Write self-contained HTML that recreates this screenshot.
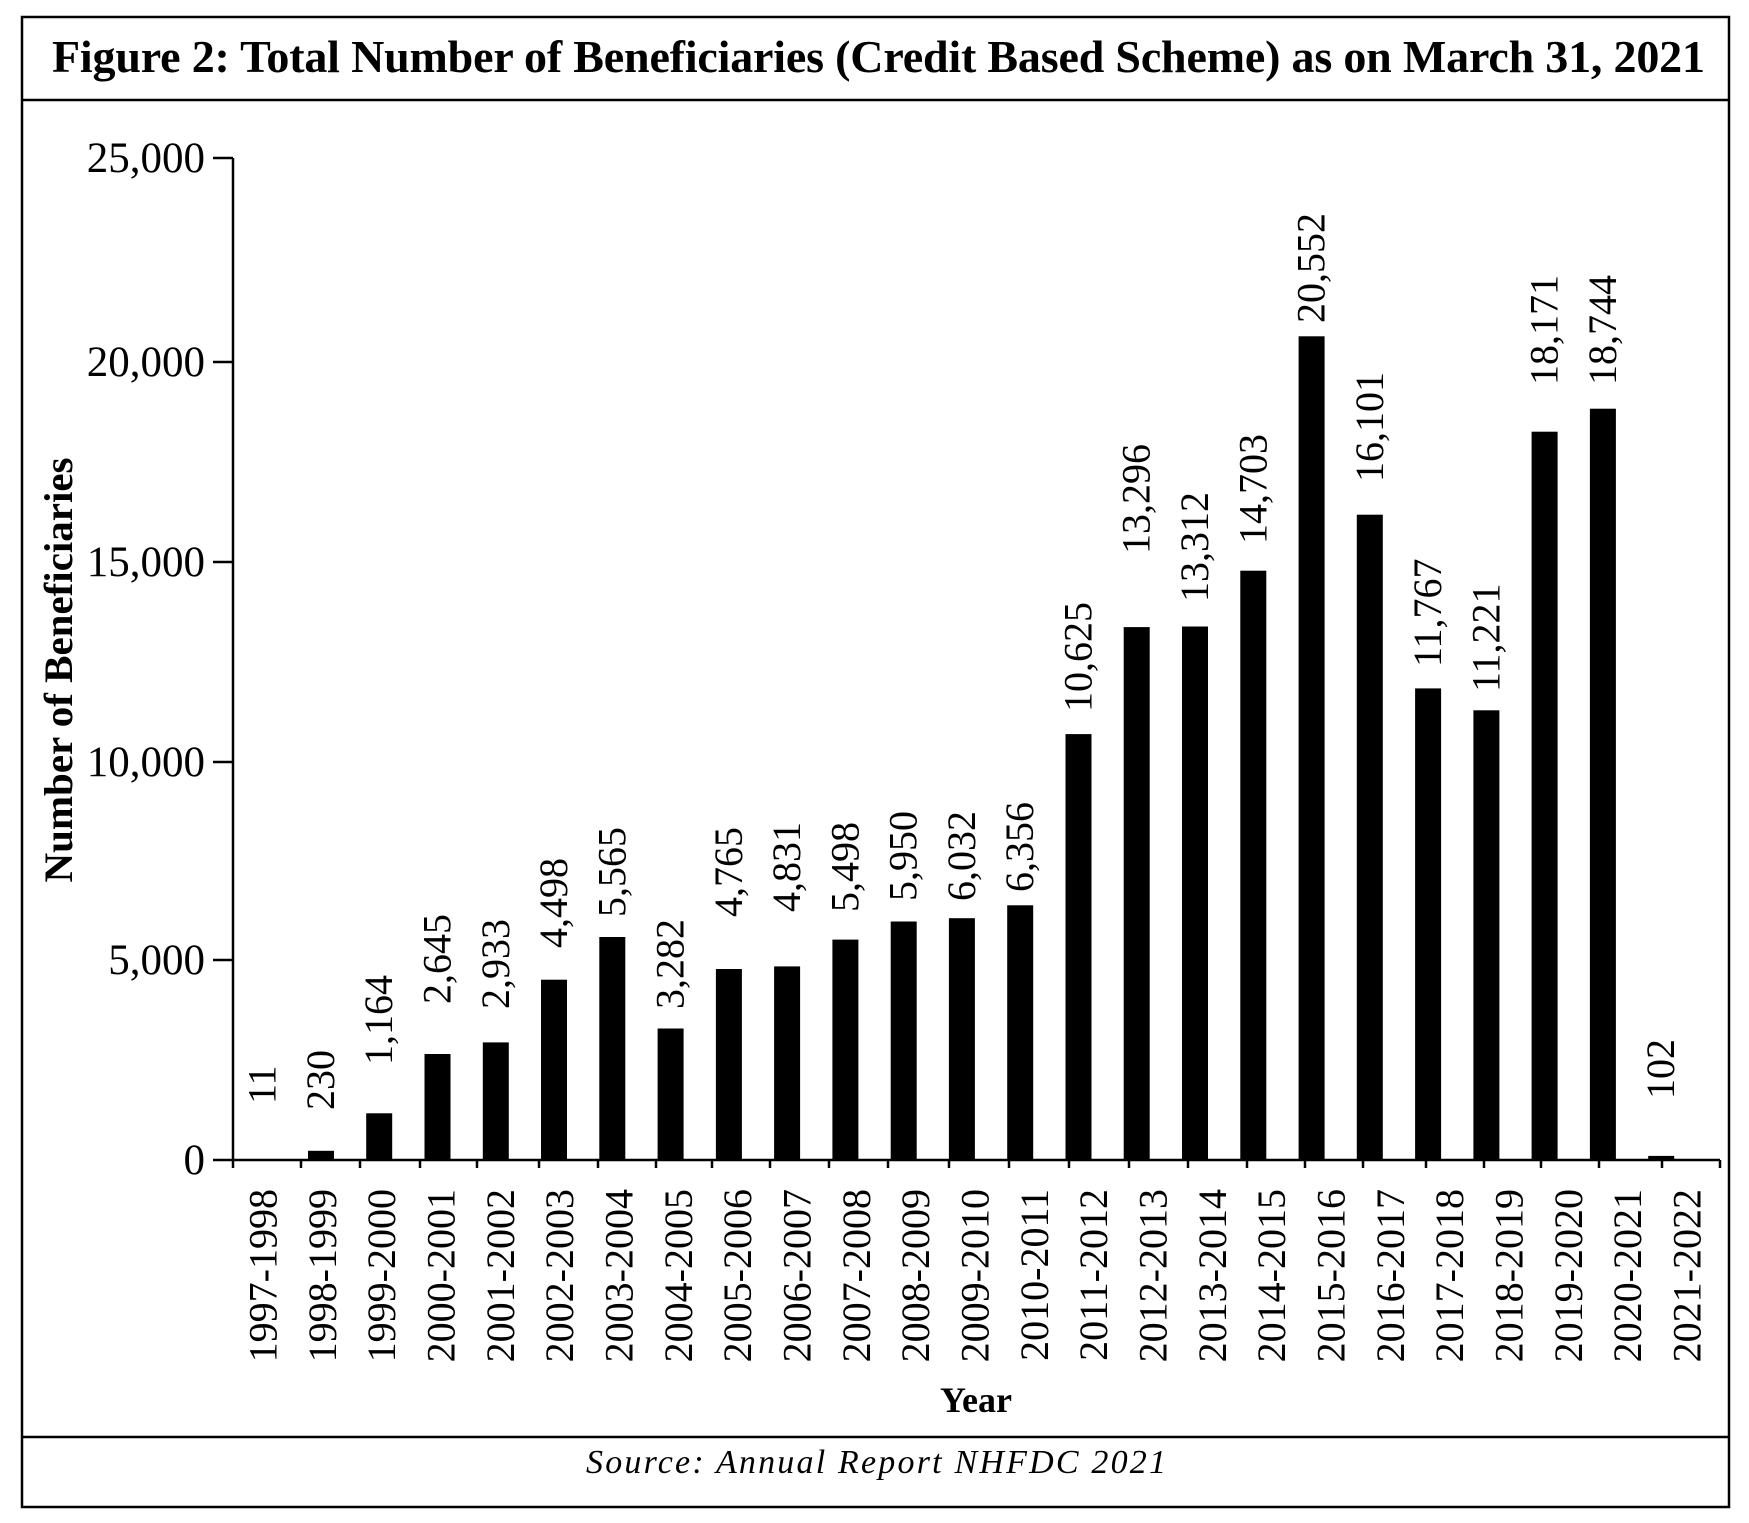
<!DOCTYPE html>
<html><head><meta charset="utf-8"><style>html,body{margin:0;padding:0;background:#fff}svg{display:block}</style></head>
<body>
<svg width="1749" height="1523" viewBox="0 0 1749 1523" xmlns="http://www.w3.org/2000/svg" font-family="'Liberation Serif', serif">
<rect x="22" y="17" width="1707" height="1490" fill="none" stroke="#000" stroke-width="2.5"/>
<line x1="22" y1="100" x2="1729" y2="100" stroke="#000" stroke-width="2.5"/>
<line x1="22" y1="1437" x2="1729" y2="1437" stroke="#000" stroke-width="2.5"/>
<text x="52" y="72" font-size="46" font-weight="bold" textLength="1653" lengthAdjust="spacing">Figure 2: Total Number of Beneficiaries (Credit Based Scheme) as on March 31, 2021</text>
<text x="876" y="1473" font-size="34" font-style="italic" text-anchor="middle" textLength="580" lengthAdjust="spacing">Source: Annual Report NHFDC 2021</text>
<g stroke="#000" stroke-width="2.5">
<line x1="233" y1="158" x2="233" y2="1160"/>
<line x1="213" y1="1160" x2="1720" y2="1160"/>
<line x1="213" y1="158" x2="233" y2="158"/>
<line x1="213" y1="362" x2="233" y2="362"/>
<line x1="213" y1="562" x2="233" y2="562"/>
<line x1="213" y1="762" x2="233" y2="762"/>
<line x1="213" y1="960" x2="233" y2="960"/>
<line x1="233" y1="1160" x2="233" y2="1168"/><line x1="301" y1="1160" x2="301" y2="1168"/><line x1="360" y1="1160" x2="360" y2="1168"/><line x1="420" y1="1160" x2="420" y2="1168"/><line x1="477" y1="1160" x2="477" y2="1168"/><line x1="539" y1="1160" x2="539" y2="1168"/><line x1="598" y1="1160" x2="598" y2="1168"/><line x1="656" y1="1160" x2="656" y2="1168"/><line x1="712" y1="1160" x2="712" y2="1168"/><line x1="770" y1="1160" x2="770" y2="1168"/><line x1="829" y1="1160" x2="829" y2="1168"/><line x1="888" y1="1160" x2="888" y2="1168"/><line x1="949" y1="1160" x2="949" y2="1168"/><line x1="1009" y1="1160" x2="1009" y2="1168"/><line x1="1069" y1="1160" x2="1069" y2="1168"/><line x1="1129" y1="1160" x2="1129" y2="1168"/><line x1="1188" y1="1160" x2="1188" y2="1168"/><line x1="1247" y1="1160" x2="1247" y2="1168"/><line x1="1305" y1="1160" x2="1305" y2="1168"/><line x1="1363" y1="1160" x2="1363" y2="1168"/><line x1="1426" y1="1160" x2="1426" y2="1168"/><line x1="1484" y1="1160" x2="1484" y2="1168"/><line x1="1541" y1="1160" x2="1541" y2="1168"/><line x1="1599" y1="1160" x2="1599" y2="1168"/><line x1="1662" y1="1160" x2="1662" y2="1168"/><line x1="1720" y1="1160" x2="1720" y2="1168"/>
</g>
<g font-size="43" text-anchor="end">
<text x="205" y="172">25,000</text>
<text x="205" y="376">20,000</text>
<text x="205" y="576">15,000</text>
<text x="205" y="776">10,000</text>
<text x="205" y="974">5,000</text>
<text x="205" y="1174">0</text>
</g>
<text transform="translate(72,670) rotate(-90)" font-size="40" font-weight="bold" text-anchor="middle" textLength="425" lengthAdjust="spacingAndGlyphs">Number of Beneficiaries</text>
<text x="976" y="1412" font-size="36" font-weight="bold" text-anchor="middle">Year</text>
<g fill="#000">
<rect x="249.7" y="1159.6" width="26" height="0.4"/>
<rect x="308.0" y="1150.8" width="26" height="9.2"/>
<rect x="366.2" y="1113.3" width="26" height="46.7"/>
<rect x="424.5" y="1054.0" width="26" height="106.0"/>
<rect x="482.8" y="1042.4" width="26" height="117.6"/>
<rect x="541.0" y="979.7" width="26" height="180.3"/>
<rect x="599.3" y="937.0" width="26" height="223.0"/>
<rect x="657.6" y="1028.5" width="26" height="131.5"/>
<rect x="715.9" y="969.0" width="26" height="191.0"/>
<rect x="774.1" y="966.4" width="26" height="193.6"/>
<rect x="832.4" y="939.6" width="26" height="220.4"/>
<rect x="890.7" y="921.5" width="26" height="238.5"/>
<rect x="948.9" y="918.2" width="26" height="241.8"/>
<rect x="1007.2" y="905.3" width="26" height="254.7"/>
<rect x="1065.5" y="734.1" width="26" height="425.9"/>
<rect x="1123.7" y="627.1" width="26" height="532.9"/>
<rect x="1182.0" y="626.5" width="26" height="533.5"/>
<rect x="1240.3" y="570.7" width="26" height="589.3"/>
<rect x="1298.6" y="336.3" width="26" height="823.7"/>
<rect x="1356.8" y="514.7" width="26" height="645.3"/>
<rect x="1415.1" y="688.4" width="26" height="471.6"/>
<rect x="1473.4" y="710.3" width="26" height="449.7"/>
<rect x="1531.6" y="431.7" width="26" height="728.3"/>
<rect x="1589.9" y="408.7" width="26" height="751.3"/>
<rect x="1648.2" y="1155.9" width="26" height="4.1"/>
</g>
<g font-size="40" text-anchor="start">
<text transform="translate(275.7,1104) rotate(-90)">11</text>
<text transform="translate(334.0,1110) rotate(-90)">230</text>
<text transform="translate(392.2,1065) rotate(-90)">1,164</text>
<text transform="translate(450.5,1004) rotate(-90)">2,645</text>
<text transform="translate(508.8,1009) rotate(-90)">2,933</text>
<text transform="translate(567.0,948) rotate(-90)">4,498</text>
<text transform="translate(625.3,917) rotate(-90)">5,565</text>
<text transform="translate(683.6,1009) rotate(-90)">3,282</text>
<text transform="translate(741.9,917) rotate(-90)">4,765</text>
<text transform="translate(800.1,912) rotate(-90)">4,831</text>
<text transform="translate(858.4,912) rotate(-90)">5,498</text>
<text transform="translate(916.7,901) rotate(-90)">5,950</text>
<text transform="translate(974.9,901) rotate(-90)">6,032</text>
<text transform="translate(1033.2,892) rotate(-90)">6,356</text>
<text transform="translate(1091.5,712) rotate(-90)">10,625</text>
<text transform="translate(1149.7,554) rotate(-90)">13,296</text>
<text transform="translate(1208.0,602) rotate(-90)">13,312</text>
<text transform="translate(1266.3,544) rotate(-90)">14,703</text>
<text transform="translate(1324.6,323) rotate(-90)">20,552</text>
<text transform="translate(1382.8,482) rotate(-90)">16,101</text>
<text transform="translate(1441.1,667) rotate(-90)">11,767</text>
<text transform="translate(1499.4,692) rotate(-90)">11,221</text>
<text transform="translate(1557.6,385) rotate(-90)">18,171</text>
<text transform="translate(1615.9,385) rotate(-90)">18,744</text>
<text transform="translate(1674.2,1099) rotate(-90)">102</text>
</g>
<g font-size="40" text-anchor="end">
<text transform="translate(276.5,1189) rotate(-90)">1997-1998</text>
<text transform="translate(335.8,1189) rotate(-90)">1998-1999</text>
<text transform="translate(395.2,1189) rotate(-90)">1999-2000</text>
<text transform="translate(454.5,1189) rotate(-90)">2000-2001</text>
<text transform="translate(513.8,1189) rotate(-90)">2001-2002</text>
<text transform="translate(573.2,1189) rotate(-90)">2002-2003</text>
<text transform="translate(632.5,1189) rotate(-90)">2003-2004</text>
<text transform="translate(691.8,1189) rotate(-90)">2004-2005</text>
<text transform="translate(751.1,1189) rotate(-90)">2005-2006</text>
<text transform="translate(810.5,1189) rotate(-90)">2006-2007</text>
<text transform="translate(869.8,1189) rotate(-90)">2007-2008</text>
<text transform="translate(929.1,1189) rotate(-90)">2008-2009</text>
<text transform="translate(988.5,1189) rotate(-90)">2009-2010</text>
<text transform="translate(1047.8,1189) rotate(-90)">2010-2011</text>
<text transform="translate(1107.1,1189) rotate(-90)">2011-2012</text>
<text transform="translate(1166.5,1189) rotate(-90)">2012-2013</text>
<text transform="translate(1225.8,1189) rotate(-90)">2013-2014</text>
<text transform="translate(1285.1,1189) rotate(-90)">2014-2015</text>
<text transform="translate(1344.4,1189) rotate(-90)">2015-2016</text>
<text transform="translate(1403.8,1189) rotate(-90)">2016-2017</text>
<text transform="translate(1463.1,1189) rotate(-90)">2017-2018</text>
<text transform="translate(1522.4,1189) rotate(-90)">2018-2019</text>
<text transform="translate(1581.8,1189) rotate(-90)">2019-2020</text>
<text transform="translate(1641.1,1189) rotate(-90)">2020-2021</text>
<text transform="translate(1700.4,1189) rotate(-90)">2021-2022</text>
</g>
</svg>
</body></html>
